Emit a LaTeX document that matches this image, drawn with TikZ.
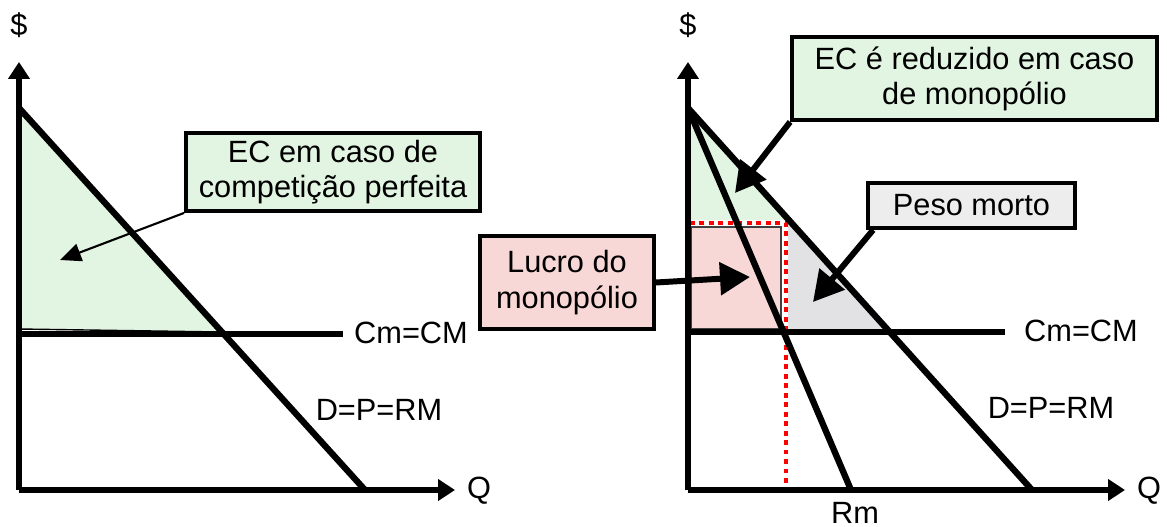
\documentclass[tikz,border=0pt]{standalone}
\usepackage{fontspec}
\setmainfont{Liberation Sans}
\usetikzlibrary{arrows.meta}
\definecolor{ecgreen}{RGB}{226,245,226}
\definecolor{lucropink}{RGB}{248,215,215}
\definecolor{pesogrey}{RGB}{237,237,238}
\definecolor{dwlgrey}{RGB}{226,226,228}
\tikzstyle{every node}=[font=\fontsize{17.5}{20}\selectfont]
\tikzstyle{axis}=[line width=3.4pt,-{Triangle[length=0.34cm,width=0.42cm]}]
\tikzstyle{curve}=[line width=3.6pt]
\tikzstyle{box}=[draw,line width=2.2pt,rectangle,align=center,inner sep=2pt]
\tikzstyle{callout}=[line width=3.4pt,-{Triangle[length=0.6cm,width=0.64cm]}]
\tikzstyle{thincallout}=[line width=1.2pt,-{Triangle[length=0.42cm,width=0.36cm]}]
\tikzstyle{pq}=[red,line width=2.3pt,dash pattern=on 2.8pt off 2.6pt]

\begin{document}
\begin{tikzpicture}[x=0.02cm,y=-0.02cm]
    \useasboundingbox (0,0) rectangle (1167,527);
    % left panel: perfect competition
    \coordinate (lO) at (19,490);
    \coordinate (lTop) at (19,62);
    \coordinate (lEnd) at (455,490);
    \coordinate (lDa) at (19,108);
    \coordinate (lDb) at (365,490);
    \coordinate (lCa) at (19,334);
    \coordinate (lCb) at (343,334);
    \fill[ecgreen,draw=black,line width=0.8pt] (lDa) -- (19,329) -- (222,332) -- cycle;
    \draw[curve] (lDa) -- (lDb);
    \draw[curve] (lCa) -- (lCb);
    \draw[axis] (lO) -- (lTop);
    \draw[axis] (lO) -- (lEnd);
    \node (lDollar) at (19,25) {\$};
    \node (lQ) at (479,491) {Q};
    \node (lCm) at (411,333) {Cm=CM};
    \node (lD) at (379,410) {D=P=RM};
    \node[box,fill=ecgreen,minimum width=5.88cm,minimum height=1.56cm] (ecComp) at (333,172) {EC em caso de\\competição perfeita};
    \coordinate (ecCompTip) at (60,260);
    \draw[thincallout] (ecComp.south west) -- (ecCompTip);

    % right panel: monopoly
    \coordinate (rO) at (688,490);
    \coordinate (rTop) at (688,62);
    \coordinate (rEnd) at (1125,490);
    \coordinate (rDa) at (688,108);
    \coordinate (rDb) at (1032,490);
    \coordinate (rMb) at (851,490);
    \coordinate (rCa) at (688,332);
    \coordinate (rCb) at (1005,332);
    \fill[ecgreen] (rDa) -- (688,220) -- (789,220) -- cycle;
    \fill[lucropink,draw=black!75,line width=1.2pt] (691,227) rectangle (781,329);
    \fill[dwlgrey] (788,222) -- (788,330) -- (889,330) -- (793,222) -- cycle;
    \draw[white,line width=2.3pt] (690,223) -- (786,223) -- (786,488);
    \draw[pq] (690,223) -- (786,223) -- (786,488);
    \draw[curve] (rDa) -- (rDb);
    \draw[curve] (rDa) -- (rMb);
    \draw[curve] (rCa) -- (rCb);
    \draw[axis] (rO) -- (rTop);
    \draw[axis] (rO) -- (rEnd);
    \node (rDollar) at (688,25) {\$};
    \node (rQ) at (1149,491) {Q};
    \node (rCm) at (1081,331) {Cm=CM};
    \node (rD) at (1051,408) {D=P=RM};
    \node[anchor=base,inner sep=1pt] (rRm) at (855,523) {Rm};
    \node[box,fill=ecgreen,minimum width=7.3cm,minimum height=1.66cm] (ecMono) at (974.5,78.5) {EC é reduzido em caso\\de monopólio};
    \node[box,fill=pesogrey,minimum width=4.14cm,minimum height=0.9cm] (peso) at (971.5,205.5) {Peso morto};
    \node[box,fill=lucropink,minimum width=3.48cm,minimum height=1.86cm] (lucro) at (567,282.5) {Lucro do\\monopólio};
    \coordinate (ecMonoTip) at (735,193);
    \coordinate (pesoTip) at (813,302);
    \coordinate (lucroTip) at (750,277);
    \draw[callout] (ecMono.south west) -- (ecMonoTip);
    \draw[callout] ([xshift=4]peso.south west) -- (pesoTip);
    \draw[callout] (lucro.east) -- (lucroTip);
\end{tikzpicture}
\end{document}
